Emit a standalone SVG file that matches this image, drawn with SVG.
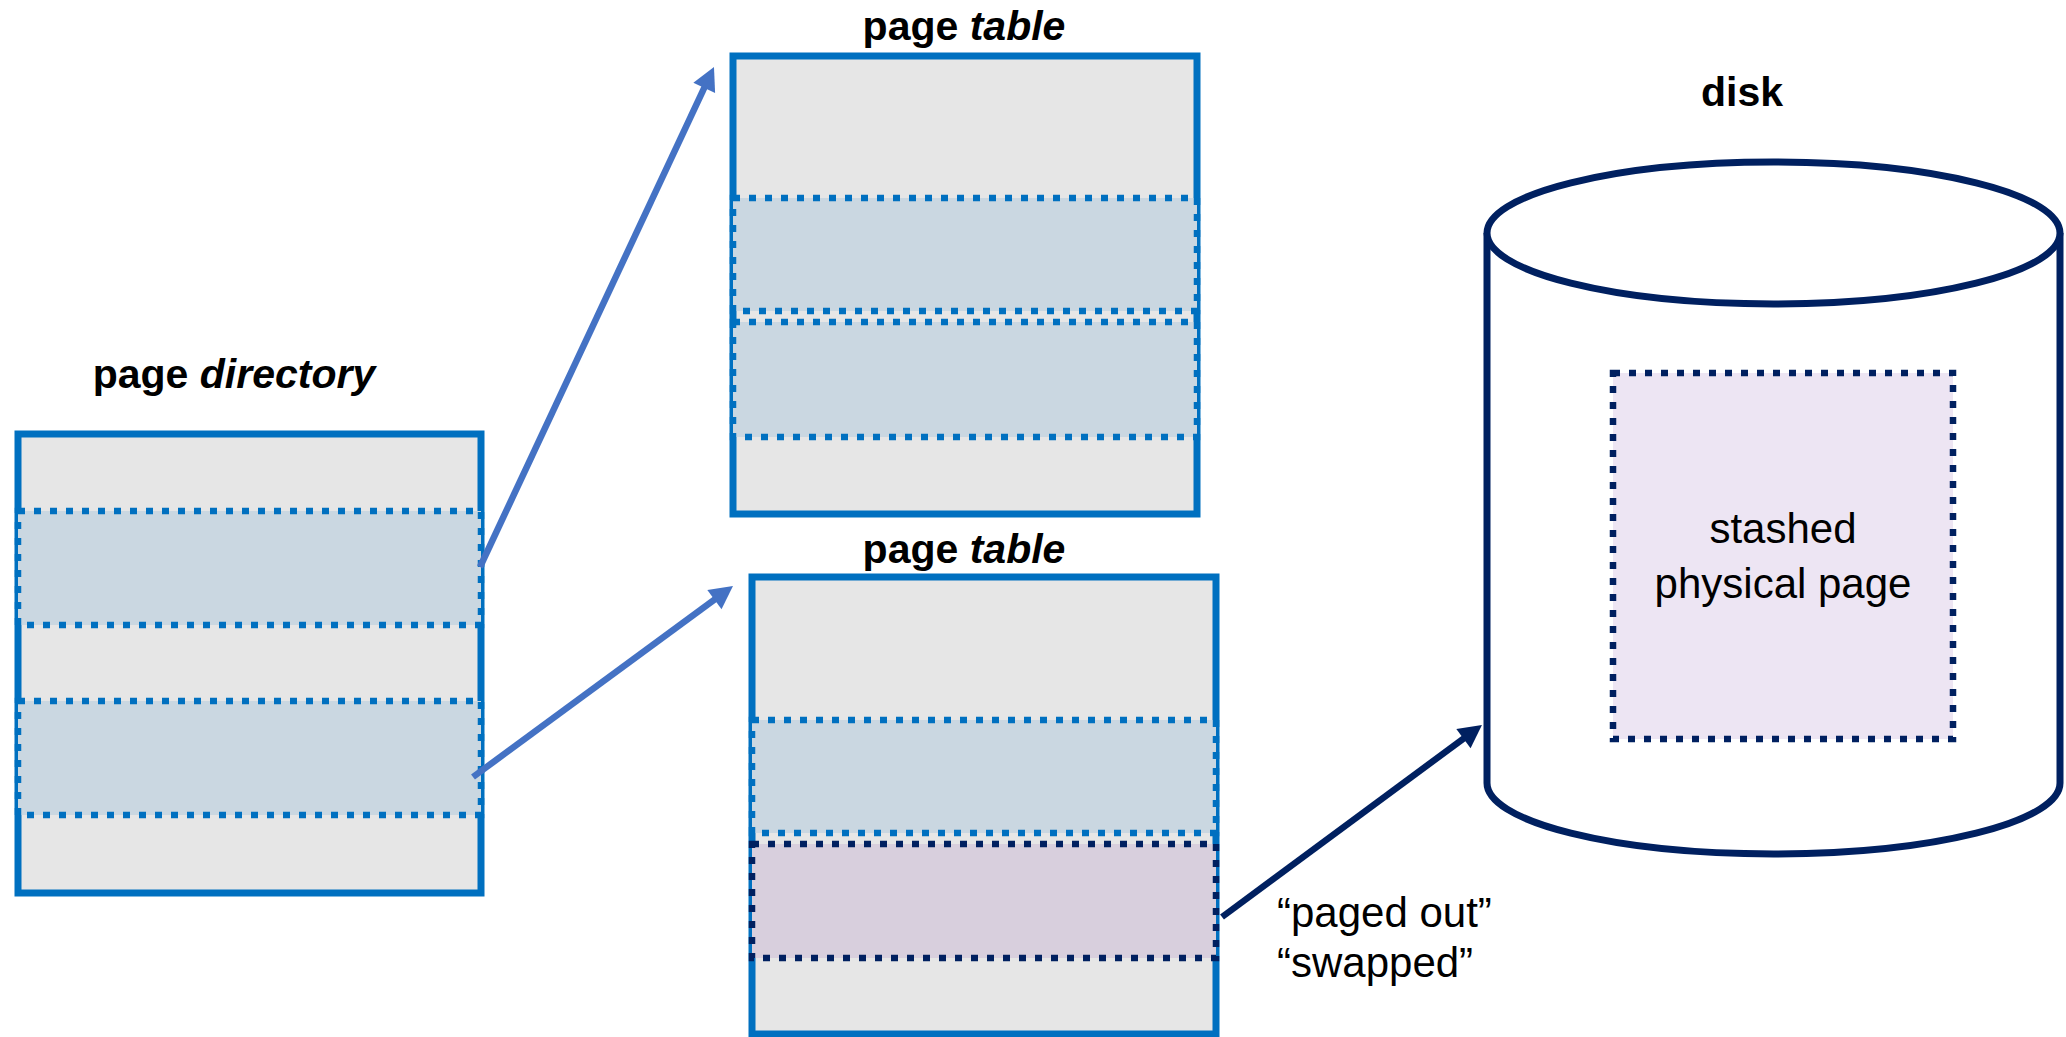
<svg xmlns="http://www.w3.org/2000/svg" width="2066" height="1037" viewBox="0 0 2066 1037">
<style>
.bg{fill:#E6E6E6;stroke:#0070C0;stroke-width:7}
.band{fill:#CAD7E1;stroke:#0070C0;stroke-width:6.5;stroke-dasharray:7 9}
.nband{fill:#D8CFDD;stroke:#002060;stroke-width:6.5;stroke-dasharray:7 9}
.title{font-family:"Liberation Sans",Arial,sans-serif;font-weight:bold;font-size:41px;fill:#000;text-anchor:middle}
.lbl{font-family:"Liberation Sans",Arial,sans-serif;font-size:42px;fill:#000}
.disk{fill:#fff;stroke:#002060;stroke-width:7}
.arrow{fill:none;stroke:#4472C4;stroke-width:6.5}
.narrow{fill:none;stroke:#002060;stroke-width:6.5}
</style>
<defs>
<marker id="ah" markerUnits="userSpaceOnUse" markerWidth="24" markerHeight="25" refX="11" refY="12" orient="auto" overflow="visible">
<path d="M0,0 L23,12 L0,24 z" fill="#4472C4"/>
</marker>
<marker id="nah" markerUnits="userSpaceOnUse" markerWidth="24" markerHeight="25" refX="11" refY="12" orient="auto" overflow="visible">
<path d="M0,0 L23,12 L0,24 z" fill="#002060"/>
</marker>
</defs>
<rect width="2066" height="1037" fill="#fff"/>

<g id="page-directory">
<text class="title" x="234" y="388">page <tspan font-style="italic">directory</tspan></text>
<rect class="bg" x="18" y="434" width="463" height="459"/>
<rect class="band" x="18" y="511" width="463" height="114"/>
<rect class="band" x="18" y="701" width="463" height="114"/>
</g>

<g id="page-table-top">
<text class="title" x="964" y="40">page <tspan font-style="italic">table</tspan></text>
<rect class="bg" x="733" y="56" width="464" height="458"/>
<rect class="band" x="733" y="198" width="464" height="113"/>
<rect class="band" x="733" y="322" width="464" height="115"/>
</g>

<g id="page-table-bottom">
<text class="title" x="964" y="563">page <tspan font-style="italic">table</tspan></text>
<rect class="bg" x="752" y="577" width="464" height="457"/>
<rect class="band" x="752" y="720" width="464" height="113"/>
<rect class="nband" x="752" y="844" width="464" height="114"/>
</g>

<g id="disk">
<text class="title" x="1742" y="106">disk</text>
<path class="disk" d="M1487,233 L1487,783 A286.5,71 0 0 0 2060,783 L2060,233"/>
<ellipse class="disk" cx="1773.5" cy="233" rx="286.5" ry="71"/>
<rect x="1613" y="373" width="340" height="366" fill="#EDE5F3" stroke="#002060" stroke-width="6.5" stroke-dasharray="7 9"/>
<text class="lbl" x="1783" y="543" text-anchor="middle">stashed</text>
<text class="lbl" x="1783" y="598" text-anchor="middle">physical page</text>
</g>

<g id="swap-label">
<text class="lbl" x="1277" y="927" font-size="45">“paged out”</text>
<text class="lbl" x="1277" y="977" font-size="45">“swapped”</text>
</g>

<g id="connectors">
<line class="arrow" x1="480" y1="567" x2="708.9" y2="77.9" marker-end="url(#ah)"/>
<line class="arrow" x1="473" y1="777" x2="723.3" y2="593.1" marker-end="url(#ah)"/>
<line class="narrow" x1="1222" y1="917" x2="1472.3" y2="732.1" marker-end="url(#nah)"/>
</g>
</svg>
